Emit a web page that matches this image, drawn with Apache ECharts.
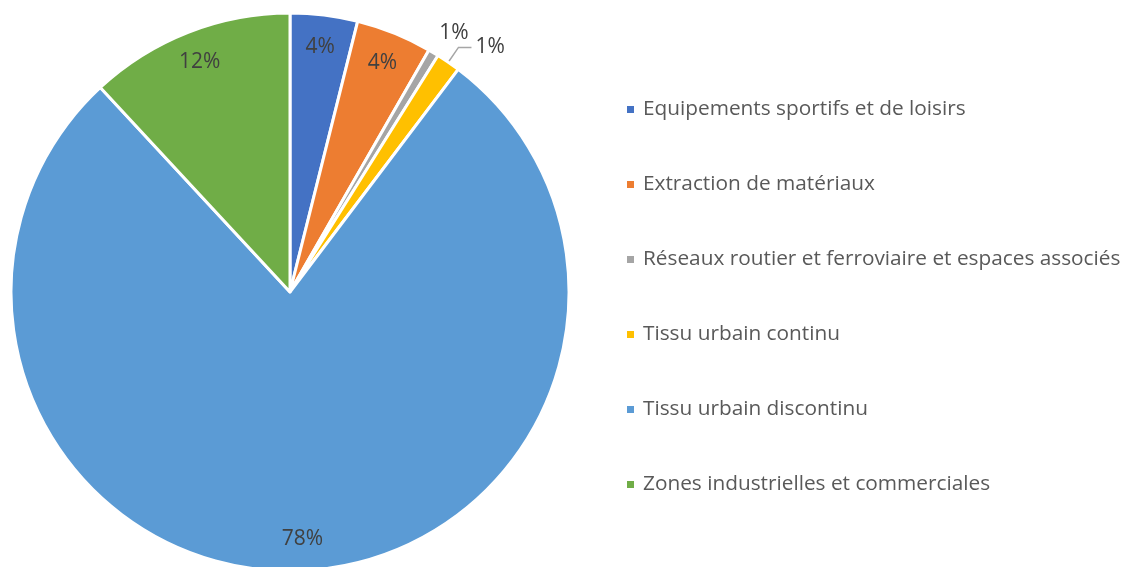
<!DOCTYPE html>
<html>
<head>
<meta charset="utf-8">
<script src="https://cdn.jsdelivr.net/npm/echarts@6/dist/echarts.min.js"></script>
<style>
html, body { margin: 0; padding: 0; background: #fff; }
#main { width: 1134px; height: 567px; }
</style>
</head>
<body>
<div id="main"></div>
<script>
var categories = ['Equipements sportifs et de loisirs', 'Extraction de matériaux',
    'Réseaux routier et ferroviaire et espaces associés', 'Tissu urbain continu',
    'Tissu urbain discontinu', 'Zones industrielles et commerciales'];
var values = [3.9, 4.4, 0.6, 1.4, 77.8, 11.9];
var colors = ['#4472C4', '#ED7D31', '#A5A5A5', '#FFC000', '#5B9BD5', '#70AD47'];
// small slices get their label outside
var outside = [false, false, true, true, false, false];

var dom = document.getElementById('main');
var myChart = echarts.init(dom);

var pctLabel = function (p) { return Math.round(p.percent) + '%'; };
var labelFont = { fontFamily: 'Open Sans', fontSize: 21, color: '#404040' };

// main slices, with outside labels for the thin ones
var mainData = categories.map(function (name, i) {
    var d = { name: name, value: values[i], itemStyle: { color: colors[i] } };
    if (outside[i]) {
        d.label = { show: true, position: 'outside' };
        d.labelLine = i === 2
            ? { show: true, length: 23, length2: -10, lineStyle: { opacity: 0 } }
            : { show: true, length: 18, length2: 13 };
    } else {
        d.label = { show: false };
        d.labelLine = { show: false };
    }
    return d;
});

// transparent ring used only to put the inside labels near the rim
var ringData = categories.map(function (name, i) {
    return {
        name: name, value: values[i],
        itemStyle: { color: 'rgba(0,0,0,0)' },
        label: { show: !outside[i] }
    };
});

option = {
    animation: false,
    legend: {
        orient: 'vertical',
        left: 625,
        top: 99,
        padding: 0,
        icon: 'rect',
        itemWidth: 9,
        itemHeight: 9,
        itemGap: 54,
        data: categories,
        textStyle: {
            fontFamily: 'Open Sans',
            fontSize: 20.8,
            lineHeight: 20,
            color: '#595959',
            padding: [0, 0, 0, 3]
        }
    },
    series: [
        {
            name: 'main',
            type: 'pie',
            center: [290, 292],
            radius: [0, 279],
            startAngle: 90,
            avoidLabelOverlap: false,
            itemStyle: { borderColor: '#fff', borderWidth: 3 },
            label: Object.assign({ formatter: pctLabel, distanceToLabelLine: 4 }, labelFont),
            labelLine: { lineStyle: { color: '#A6A6A6', width: 1.5 } },
            labelLayout: { hideOverlap: false },
            emphasis: { disabled: true },
            data: mainData
        },
        {
            name: 'labels',
            type: 'pie',
            silent: true,
            center: [290, 292],
            radius: [209, 279],
            startAngle: 90,
            avoidLabelOverlap: false,
            label: Object.assign({ position: 'inside', formatter: pctLabel }, labelFont),
            labelLine: { show: false },
            emphasis: { disabled: true },
            data: ringData
        }
    ]
};

myChart.setOption(option);
</script>
</body>
</html>
